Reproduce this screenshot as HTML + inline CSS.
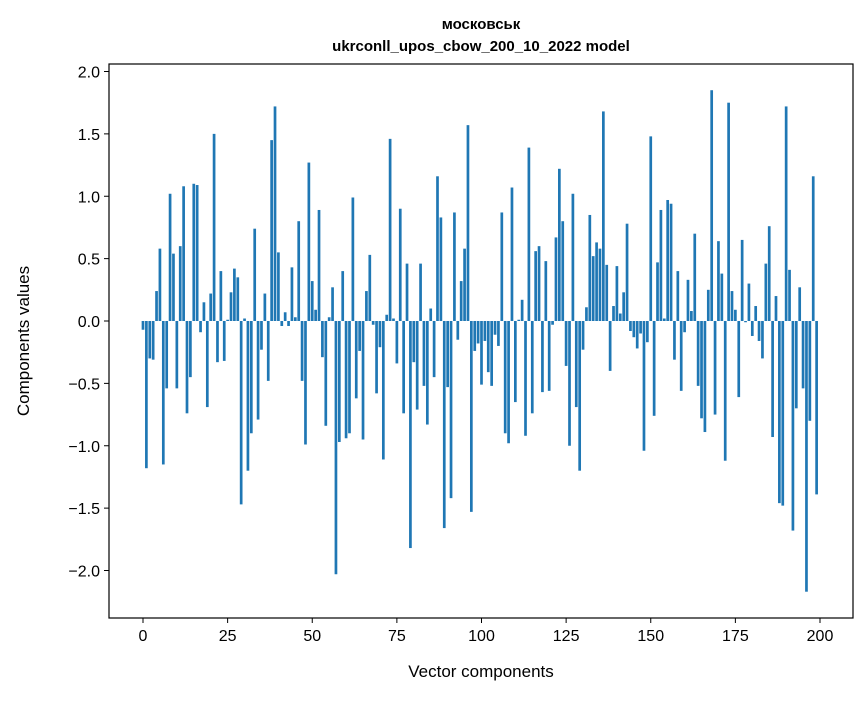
<!DOCTYPE html>
<html><head><meta charset="utf-8"><style>
body{margin:0;background:#fff;font-family:"Liberation Sans","DejaVu Sans",sans-serif;}
svg text{font-family:"Liberation Sans","DejaVu Sans",sans-serif;}
</style></head><body>
<svg id="chart" width="867" height="696">
<text x="481" y="29" text-anchor="middle" font-size="15" font-weight="bold">московськ</text>
<text x="481" y="51" text-anchor="middle" font-size="15" font-weight="bold">ukrconll_upos_cbow_200_10_2022 model</text>
<g id="bars"></g>
<g id="axes"></g>
<rect x="109" y="64" width="744" height="554" fill="none" stroke="#000" stroke-width="1.2"/>
<text x="481" y="677" text-anchor="middle" font-size="17">Vector components</text>
<text transform="translate(29,341) rotate(-90)" text-anchor="middle" font-size="17">Components values</text>
</svg>
<script>
const values=[-0.07,-1.18,-0.3,-0.31,0.24,0.58,-1.15,-0.54,1.02,0.54,-0.54,0.6,1.08,-0.74,-0.45,1.1,1.09,-0.09,0.15,-0.69,0.22,1.5,-0.33,0.4,-0.32,0.01,0.23,0.42,0.35,-1.47,0.02,-1.2,-0.9,0.74,-0.79,-0.23,0.22,-0.48,1.45,1.72,0.55,-0.04,0.07,-0.04,0.43,0.03,0.8,-0.48,-0.99,1.27,0.32,0.09,0.89,-0.29,-0.84,0.03,0.27,-2.03,-0.97,0.4,-0.94,-0.9,0.99,-0.62,-0.24,-0.95,0.24,0.53,-0.03,-0.58,-0.21,-1.11,0.05,1.46,0.02,-0.34,0.9,-0.74,0.46,-1.82,-0.33,-0.71,0.46,-0.52,-0.83,0.1,-0.45,1.16,0.83,-1.66,-0.53,-1.42,0.87,-0.15,0.32,0.58,1.57,-1.53,-0.24,-0.18,-0.51,-0.16,-0.41,-0.52,-0.11,-0.2,0.87,-0.9,-0.98,1.07,-0.65,0.01,0.17,-0.92,1.39,-0.74,0.56,0.6,-0.57,0.48,-0.56,-0.03,0.67,1.22,0.8,-0.36,-1.0,1.02,-0.69,-1.2,-0.23,0.11,0.85,0.52,0.63,0.58,1.68,0.45,-0.4,0.12,0.44,0.06,0.23,0.78,-0.08,-0.13,-0.22,-0.1,-1.04,-0.17,1.48,-0.76,0.47,0.89,0.02,0.97,0.94,-0.31,0.4,-0.56,-0.09,0.33,0.08,0.7,-0.52,-0.78,-0.89,0.25,1.85,-0.75,0.64,0.38,-1.12,1.75,0.24,0.09,-0.61,0.65,-0.01,0.3,-0.12,0.12,-0.16,-0.3,0.46,0.76,-0.93,0.2,-1.46,-1.48,1.72,0.41,-1.68,-0.7,0.27,-0.54,-2.17,-0.8,1.16,-1.39];
const xTicks=[0,25,50,75,100,125,150,175,200];
const yTicks=[-2.0,-1.5,-1.0,-0.5,0.0,0.5,1.0,1.5,2.0];
const NS="http://www.w3.org/2000/svg";
const xs=v=>143+v*3.385;
const ys=v=>321-v*124.75;
const gb=document.getElementById('bars');
values.forEach((v,i)=>{
  const r=document.createElementNS(NS,'rect');
  const y0=Math.min(ys(v),ys(0));
  r.setAttribute('x',xs(i)-1.35);
  r.setAttribute('y',y0);
  r.setAttribute('width',2.7);
  r.setAttribute('height',Math.max(Math.abs(ys(v)-ys(0)),0.5));
  r.setAttribute('fill','#1f77b4');
  
  
  gb.appendChild(r);
});
const ga=document.getElementById('axes');
xTicks.forEach(t=>{
  const l=document.createElementNS(NS,'line');
  l.setAttribute('x1',xs(t));l.setAttribute('x2',xs(t));l.setAttribute('y1',618);l.setAttribute('y2',623);l.setAttribute('stroke','#000');
  
  
  ga.appendChild(l);
  const tx=document.createElementNS(NS,'text');
  tx.setAttribute('x',xs(t));tx.setAttribute('y',641);tx.setAttribute('text-anchor','middle');tx.setAttribute('font-size','16');
  tx.textContent=t;
  
  
  ga.appendChild(tx);
});
yTicks.forEach(t=>{
  const l=document.createElementNS(NS,'line');
  l.setAttribute('x1',104);l.setAttribute('x2',109);l.setAttribute('y1',ys(t));l.setAttribute('y2',ys(t));l.setAttribute('stroke','#000');
  
  
  ga.appendChild(l);
  const tx=document.createElementNS(NS,'text');
  tx.setAttribute('x',100);tx.setAttribute('y',ys(t)+6);tx.setAttribute('text-anchor','end');tx.setAttribute('font-size','16');
  tx.textContent=(t<0?'\u2212':'')+Math.abs(t).toFixed(1);
  
  
  ga.appendChild(tx);
});
</script>
</body></html>
